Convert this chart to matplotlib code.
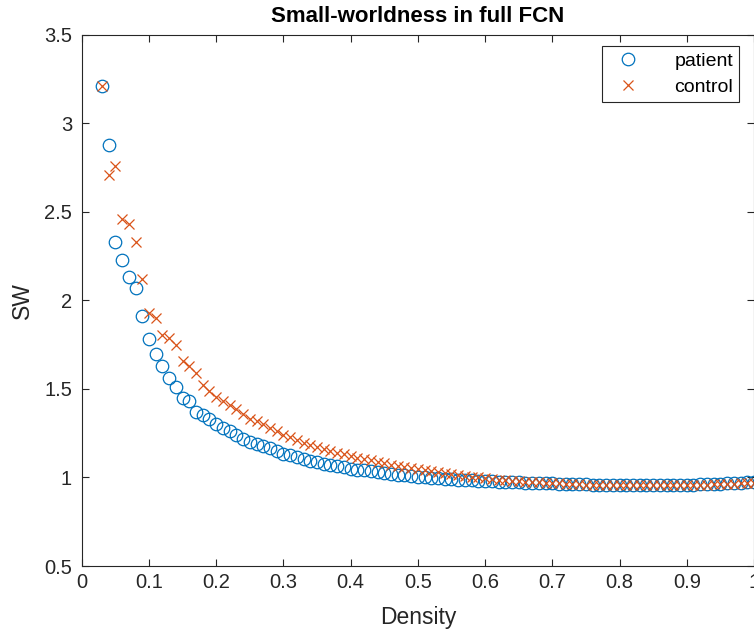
import matplotlib
matplotlib.use('Agg')
import matplotlib.pyplot as plt
import numpy as np

plt.rcParams['font.family'] = ['Liberation Sans', 'DejaVu Sans']

# network density from 0.03 to 1.00 in steps of 0.01
density = np.arange(3, 101) / 100.0

sw_patient = [
    3.21, 2.88, 2.33, 2.23, 2.13, 2.07, 1.91, 1.78, 1.70, 1.63,
    1.56, 1.51, 1.45, 1.43, 1.37, 1.35, 1.33, 1.30, 1.28, 1.26,
    1.24, 1.22, 1.20, 1.19, 1.18, 1.165, 1.15, 1.135, 1.125, 1.115,
    1.105, 1.095, 1.085, 1.078, 1.07, 1.063, 1.057, 1.05, 1.045, 1.04,
    1.035, 1.03, 1.025, 1.02, 1.016, 1.012, 1.008, 1.005, 1.002, 0.999,
    0.996, 0.993, 0.99, 0.988, 0.986, 0.984, 0.982, 0.98, 0.978, 0.976,
    0.975, 0.973, 0.972, 0.97, 0.969, 0.968, 0.967, 0.966, 0.965, 0.964,
    0.963, 0.962, 0.961, 0.96, 0.96, 0.959, 0.959, 0.958, 0.958, 0.957,
    0.957, 0.957, 0.957, 0.957, 0.957, 0.958, 0.958, 0.959, 0.96, 0.961,
    0.962, 0.963, 0.965, 0.966, 0.968, 0.97, 0.972, 0.975,
]

sw_control = [
    3.21, 2.71, 2.76, 2.46, 2.43, 2.33, 2.12, 1.93, 1.90, 1.805,
    1.79, 1.75, 1.66, 1.63, 1.59, 1.52, 1.49, 1.455, 1.43, 1.41,
    1.385, 1.36, 1.33, 1.32, 1.30, 1.28, 1.26, 1.24, 1.228, 1.21,
    1.197, 1.185, 1.172, 1.16, 1.15, 1.14, 1.13, 1.12, 1.112, 1.104,
    1.096, 1.088, 1.08, 1.073, 1.066, 1.06, 1.054, 1.048, 1.042, 1.036,
    1.03, 1.025, 1.02, 1.015, 1.01, 1.005, 1.0, 0.996, 0.992, 0.988,
    0.985, 0.982, 0.979, 0.976, 0.974, 0.972, 0.97, 0.968, 0.966, 0.964,
    0.962, 0.961, 0.96, 0.959, 0.958, 0.957, 0.956, 0.956, 0.955, 0.955,
    0.955, 0.955, 0.955, 0.955, 0.955, 0.956, 0.956, 0.957, 0.958, 0.959,
    0.96, 0.961, 0.962, 0.963, 0.965, 0.966, 0.968, 0.97,
]

x_ticks = [0, 0.1, 0.2, 0.3, 0.4, 0.5, 0.6, 0.7, 0.8, 0.9, 1.0]
x_ticklabels = ['0', '0.1', '0.2', '0.3', '0.4', '0.5', '0.6', '0.7', '0.8', '0.9', '1']
y_ticks = [0.5, 1.0, 1.5, 2.0, 2.5, 3.0, 3.5]
y_ticklabels = ['0.5', '1', '1.5', '2', '2.5', '3', '3.5']

blue = '#0072BD'
orange = '#D95319'
axis_grey = '#262626'

fig = plt.figure(figsize=(7.54, 6.32), dpi=100)
ax = fig.add_axes([0.1084, 0.1044, 0.8916, 0.8406])

ax.plot(density, sw_patient, linestyle='none', marker='o', markersize=9,
        markerfacecolor='none', markeredgecolor=blue, markeredgewidth=0.9,
        label='patient')
ax.plot(density, sw_control, linestyle='none', marker='x', markersize=6.5,
        color=orange, markeredgewidth=0.9, label='control')

ax.set_xlim(0, 1)
ax.set_ylim(0.5, 3.5)
ax.set_xticks(x_ticks)
ax.set_xticklabels(x_ticklabels)
ax.set_yticks(y_ticks)
ax.set_yticklabels(y_ticklabels)

ax.tick_params(direction='in', length=5, width=0.8, colors=axis_grey,
               labelsize=14.5, top=True, right=True)
ax.tick_params(axis='x', pad=5)
ax.tick_params(axis='y', pad=7)
for side in ax.spines.values():
    side.set_color(axis_grey)
    side.set_linewidth(0.8)

ax.set_title('Small-worldness in full FCN', fontsize=16, fontweight='bold',
             color='black', pad=9)
ax.set_xlabel('Density', fontsize=16.5, color=axis_grey, labelpad=10)
ax.set_ylabel('SW', fontsize=16.5, color=axis_grey, labelpad=7)

leg = ax.legend(loc='upper right', fontsize=14, frameon=True, fancybox=False,
                edgecolor=axis_grey, framealpha=1, borderpad=0.3,
                handletextpad=1.4, labelspacing=0.45, borderaxespad=0.6,
                handlelength=2.0, bbox_to_anchor=(0.995, 1.0))
leg.get_frame().set_linewidth(0.8)

fig.savefig('out.png', dpi=100)
